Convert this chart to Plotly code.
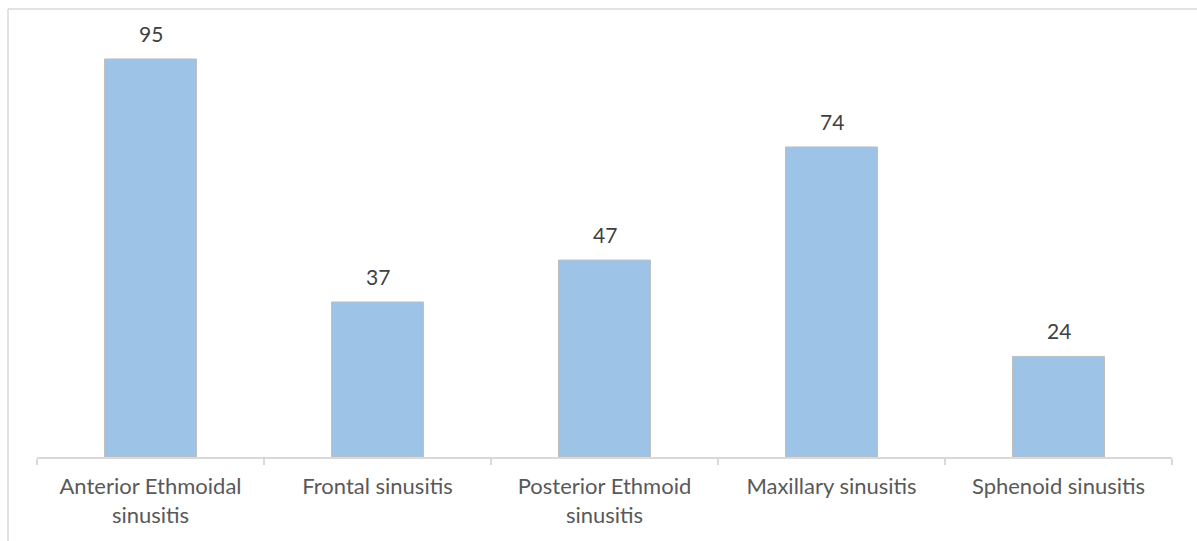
import plotly.graph_objects as go

categories = ["Anterior Ethmoidal<br>sinusitis", "Frontal sinusitis", "Posterior Ethmoid<br>sinusitis",
              "Maxillary sinusitis", "Sphenoid sinusitis"]
values = [95, 37, 47, 74, 24]

W, H = 1197, 541
ml, mr, mt, mb = 37, 25, 38, 84
pw, ph = W - ml - mr, H - mt - mb

FONT = "Lato, Open Sans, sans-serif"

fig = go.Figure()
fig.add_trace(go.Bar(
    x=categories, y=values,
    marker=dict(color="#9DC3E6", line=dict(color="#BFBFBF", width=1)),
    width=0.405, hoverinfo="skip",
))

for c, v in zip(categories, values):
    fig.add_annotation(x=c, y=v, text=str(v), showarrow=False, yanchor="bottom",
                       yshift=11, font=dict(family=FONT, size=21, color="#404040"))

# outer chart border (top and left visible)
x0 = (8 - ml) / pw
y0 = (H - 9 - mb) / ph
fig.add_shape(type="line", xref="paper", yref="paper", x0=x0, x1=1.2, y0=y0, y1=y0,
              line=dict(color="#D9D9D9", width=1.5))
fig.add_shape(type="line", xref="paper", yref="paper", x0=x0, x1=x0, y0=y0, y1=-0.3,
              line=dict(color="#D9D9D9", width=1.5))

fig.update_layout(
    width=W, height=H,
    margin=dict(l=ml, r=mr, t=mt, b=mb),
    paper_bgcolor="white", plot_bgcolor="white",
    showlegend=False,
    font=dict(family=FONT, size=22, color="#595959"),
)
fig.update_xaxes(showline=True, linecolor="#D9D9D9", linewidth=1.5,
                 ticks="outside", tickson="boundaries", ticklen=6, tickcolor="#D9D9D9",
                 tickwidth=1.5, showgrid=False, ticklabelstandoff=9,
                 tickfont=dict(family=FONT, size=22, color="#595959"))
fig.update_yaxes(range=[0, 100], visible=False, showgrid=False)

fig.write_html("out.html")
